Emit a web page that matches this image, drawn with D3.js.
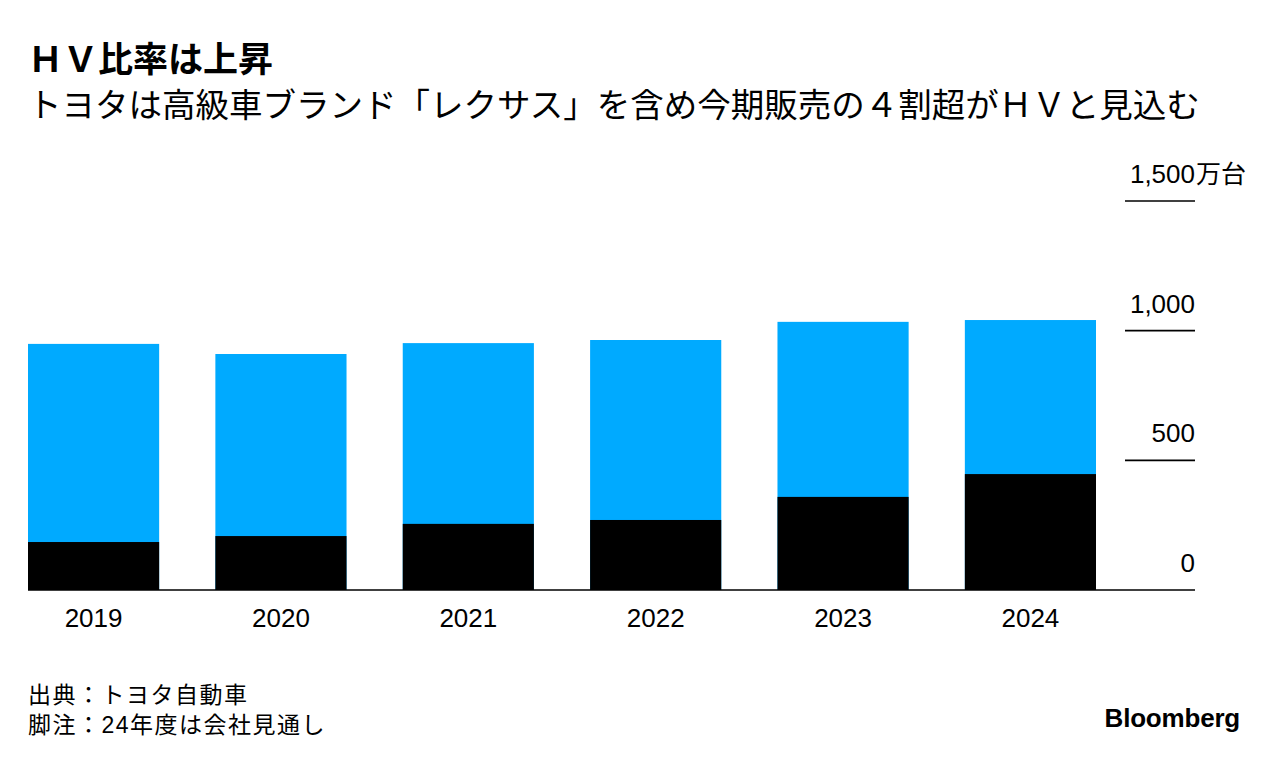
<!DOCTYPE html>
<html><head><meta charset="utf-8">
<script src="https://cdn.jsdelivr.net/npm/d3@7"></script>
<style>
html,body{margin:0;padding:0;background:#fff;}
svg{display:block;}
text{font-family:"Liberation Sans","Noto Sans CJK JP",sans-serif;fill:#000;}
.jp{font-family:"Noto Sans CJK JP","Liberation Sans",sans-serif;}
</style></head>
<body>
<script>
const years = ["2019","2020","2021","2022","2023","2024"];
const totalSales = [949, 910, 952, 964, 1034, 1041];   // 万台
const hvSales = [185, 208, 255, 270, 359, 447];         // 万台
const yTicks = [0, 500, 1000, 1500];
const yTickLabels = ["0", "500", "1,000", "1,500"];
const yUnit = "万台";

const W = 1279, H = 764;
const svg = d3.select("body").append("svg").attr("width", W).attr("height", H);

svg.append("text").attr("class","jp").attr("x",28).attr("y",72)
  .style("font-size","35px").style("font-weight","700").text("ＨＶ比率は上昇");
svg.append("text").attr("class","jp").attr("x",28).attr("y",117)
  .style("font-size","33.5px").text("トヨタは高級車ブランド「レクサス」を含め今期販売の４割超がＨＶと見込む");

const x = d3.scaleBand().domain(years).range([28, 1096]).paddingInner(0.3).paddingOuter(0);
const y = d3.scaleLinear().domain([0, 1500]).range([590, 201]);

const g = svg.append("g");
g.selectAll("rect.total").data(years).join("rect").attr("class","total")
  .attr("x", d => x(d)).attr("width", x.bandwidth())
  .attr("y", (d,i) => y(totalSales[i])).attr("height", (d,i) => y(0) - y(totalSales[i]))
  .attr("fill", "#00aaff");
g.selectAll("rect.hv").data(years).join("rect").attr("class","hv")
  .attr("x", d => x(d)).attr("width", x.bandwidth())
  .attr("y", (d,i) => y(hvSales[i])).attr("height", (d,i) => y(0) - y(hvSales[i]))
  .attr("fill", "#000");

// y ticks
const tg = svg.append("g");
yTicks.forEach((t,i) => {
  tg.append("line").attr("x1", t === 0 ? 28 : 1125).attr("x2", 1195)
    .attr("y1", y(t)).attr("y2", y(t)).attr("stroke","#000").attr("stroke-width",1.6);
  tg.append("text").attr("x",1195).attr("y", y(t) - 18).attr("text-anchor","end")
    .style("font-size","26px").text(yTickLabels[i]);
  if (i === yTicks.length - 1) {
    tg.append("text").attr("class","jp").attr("x",1196).attr("y", y(t) - 18)
      .style("font-size","25px").text(yUnit);
  }
});

// x labels
svg.append("g").selectAll("text").data(years).join("text")
  .attr("x", d => x(d) + x.bandwidth()/2).attr("y", 627).attr("text-anchor","middle")
  .style("font-size","26px").text(d => d);

svg.append("text").attr("x",28).attr("y",703).style("font-size","23px").style("letter-spacing","1.5px").text("出典：トヨタ自動車");
svg.append("text").attr("x",28).attr("y",733).style("font-size","23px").style("letter-spacing","1.5px").text("脚注：24年度は会社見通し");
svg.append("text").attr("x",1240).attr("y",727).attr("text-anchor","end")
  .style("font-size","26px").style("font-weight","700").style("letter-spacing","-0.2px").text("Bloomberg");
</script>
</body></html>
